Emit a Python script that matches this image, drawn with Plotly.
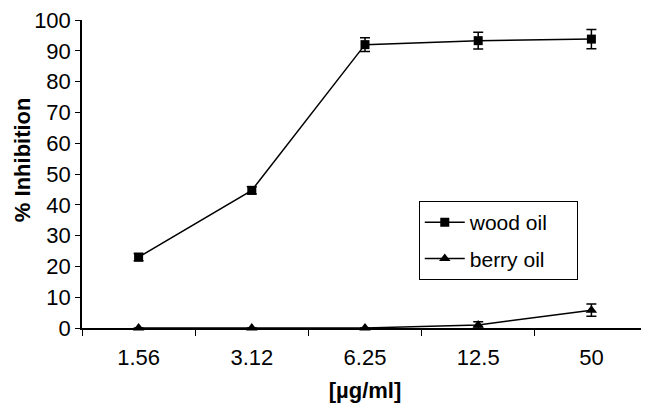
import plotly.graph_objects as go

categories = ["1.56", "3.12", "6.25", "12.5", "50"]
wood_oil = [23.0, 44.7, 92.0, 93.3, 93.8]
wood_err = [1.2, 1.2, 2.2, 2.7, 3.1]
berry_oil = [0.0, 0.0, 0.0, 1.0, 5.8]
berry_err = [0.0, 0.0, 0.0, 1.0, 2.0]
series_names = ["wood oil", "berry oil"]

FONT = "Arial, Liberation Sans, Helvetica, sans-serif"
PAD = "\u00a0" * 4

fig = go.Figure()
fig.add_trace(go.Scatter(
    x=categories, y=wood_oil, name=series_names[0] + PAD, mode="lines+markers",
    legendgroup="a",
    line=dict(color="black", width=1.5),
    marker=dict(symbol="square", size=9, color="black"),
    error_y=dict(type="data", array=wood_err, color="black", thickness=1.5, width=5),
    cliponaxis=False,
))
fig.add_trace(go.Scatter(
    x=categories, y=berry_oil, name=series_names[1] + PAD, mode="lines+markers",
    legendgroup="b",
    line=dict(color="black", width=1.5),
    marker=dict(symbol="triangle-up", size=10, color="black"),
    error_y=dict(type="data", array=berry_err, color="black", thickness=1.5, width=5),
    cliponaxis=False,
))

fig.update_layout(
    width=641, height=395,
    margin=dict(l=74, r=1, t=12, b=75),
    paper_bgcolor="white", plot_bgcolor="white",
    font=dict(family=FONT, size=22, color="black"),
    showlegend=True,
    legend=dict(
        x=0.595, y=0.412, xanchor="left", yanchor="top",
        bordercolor="black", borderwidth=1, bgcolor="white",
        font=dict(size=21), itemwidth=40, tracegroupgap=6,
    ),
    xaxis=dict(
        type="category", range=[-0.5, 4.5], automargin=False,
        showline=True, linecolor="black", linewidth=1.5,
        ticks="outside", tickson="boundaries", ticklen=6, tickcolor="black", tickwidth=1,
        showgrid=False, zeroline=False, tickfont=dict(size=22),
        ticklabelstandoff=9,
        title=dict(text="<b>[µg/ml]</b>", font=dict(size=22), standoff=17),
    ),
    yaxis=dict(
        range=[0, 100], dtick=10, automargin=False,
        showline=True, linecolor="black", linewidth=1.5,
        ticks="outside", ticklen=5, tickcolor="black", tickwidth=1,
        showgrid=False, zeroline=False, tickfont=dict(size=22),
        ticklabeloverflow="allow",
    ),
    annotations=[dict(
        text="<b>% Inhibition</b>", textangle=-90,
        xref="paper", yref="paper", x=-0.106, y=0.545,
        xanchor="center", yanchor="middle", showarrow=False,
        font=dict(size=22),
    )],
)

fig.write_html("out.html")
